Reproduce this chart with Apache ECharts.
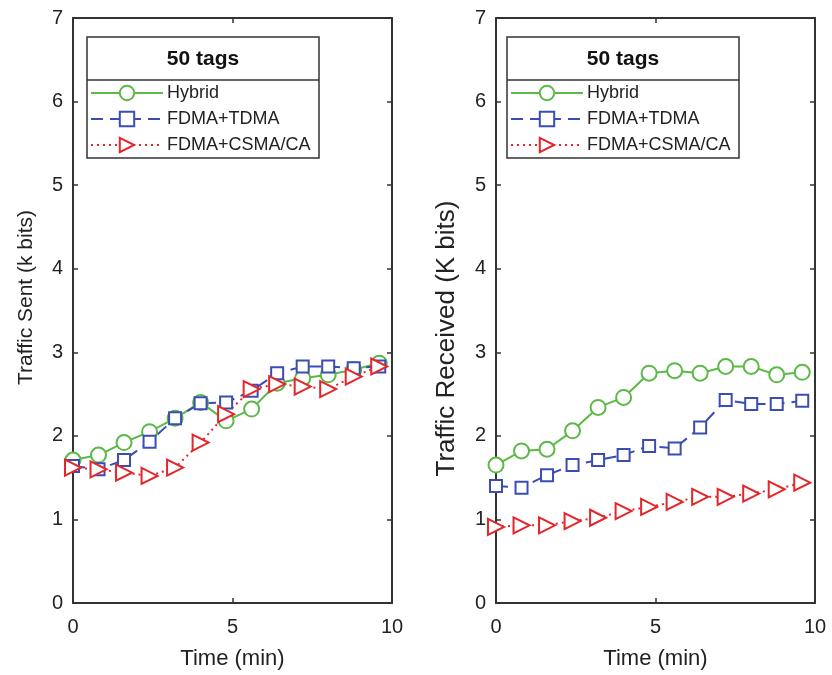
<!DOCTYPE html>
<html>
<head>
<meta charset="utf-8">
<script src="https://cdn.jsdelivr.net/npm/echarts@6/dist/echarts.min.js"></script>
<style>
html,body{margin:0;padding:0;background:#fff;}
#chart{width:832px;height:675px;}
</style>
</head>
<body>
<div id="chart"></div>
<script>
// ---- data ----
var time = [0, 0.8, 1.6, 2.4, 3.2, 4.0, 4.8, 5.6, 6.4, 7.2, 8.0, 8.8, 9.6];
var seriesNames = ['Hybrid', 'FDMA+TDMA', 'FDMA+CSMA/CA'];
var sentHybrid = [1.71, 1.77, 1.92, 2.05, 2.21, 2.40, 2.18, 2.32, 2.63, 2.69, 2.73, 2.79, 2.87];
var sentTdma   = [1.64, 1.60, 1.71, 1.93, 2.21, 2.39, 2.40, 2.54, 2.75, 2.83, 2.83, 2.81, 2.83];
var sentCsma   = [1.62, 1.60, 1.56, 1.52, 1.62, 1.92, 2.26, 2.56, 2.62, 2.59, 2.56, 2.71, 2.83];
var recvHybrid = [1.65, 1.82, 1.84, 2.06, 2.34, 2.46, 2.75, 2.78, 2.75, 2.83, 2.83, 2.73, 2.76];
var recvTdma   = [1.40, 1.38, 1.53, 1.65, 1.71, 1.77, 1.88, 1.85, 2.10, 2.43, 2.38, 2.38, 2.42];
var recvCsma   = [0.91, 0.93, 0.93, 0.98, 1.02, 1.10, 1.15, 1.21, 1.27, 1.27, 1.31, 1.36, 1.44];
var xTicks = [0, 5, 10];
var yTicks = [0, 1, 2, 3, 4, 5, 6, 7];
var legendTitle = '50 tags';
var xName = 'Time (min)';
var yNameLeft = 'Traffic Sent (k bits)';
var yNameRight = 'Traffic Received (K bits)';

// ---- styling ----
var FONT = 'Liberation Sans, Arial, Helvetica, sans-serif';
var AX = '#333';
var GREEN = '#5cb947', BLUE = '#3b4db3', RED = '#e4262b';
var TRI = 'path://M0,0 L10,5 L0,10 Z';

function pairs(xs, ys){ return xs.map(function(x,i){ return [x, ys[i]]; }); }

function xAxes(gi){
  var base = {
    gridIndex: gi, type: 'value', min: xTicks[0], max: xTicks[xTicks.length-1], interval: 5,
    axisLine: {show: true, onZero: false, lineStyle: {color: AX, width: 2}},
    axisTick: {show: true, inside: true, length: 5, lineStyle: {color: AX, width: 1.5}},
    splitLine: {show: false}
  };
  var bottom = Object.assign({}, base, {
    position: 'bottom',
    axisLabel: {show: true, color: '#222', fontSize: 20, fontFamily: FONT, margin: 14},
    name: xName, nameLocation: 'middle', nameGap: 45,
    nameTextStyle: {color: '#222', fontSize: 22, fontFamily: FONT}
  });
  var top = Object.assign({}, base, {position: 'top', axisLabel: {show: false}});
  return [bottom, top];
}
function yAxes(gi, name, pad){
  var base = {
    gridIndex: gi, type: 'value', min: yTicks[0], max: yTicks[yTicks.length-1], interval: 1,
    axisLine: {show: true, onZero: false, lineStyle: {color: AX, width: 2}},
    axisTick: {show: true, inside: true, length: 5, lineStyle: {color: AX, width: 1.5}},
    splitLine: {show: false}
  };
  var left = Object.assign({}, base, {
    position: 'left',
    axisLabel: {show: true, color: '#222', fontSize: 20, fontFamily: FONT, margin: 10},
    name: name, nameLocation: 'middle', nameGap: pad.gap,
    nameTextStyle: {color: '#222', fontSize: pad.size, fontFamily: FONT, padding: pad.padding}
  });
  var right = Object.assign({}, base, {position: 'right', axisLabel: {show: false}});
  return [left, right];
}

function lineSeries(name, xi, yi, data, color, symbol, size, dash){
  return {
    name: name, type: 'line', xAxisIndex: xi, yAxisIndex: yi,
    data: pairs(time, data),
    symbol: symbol, symbolSize: size,
    lineStyle: {color: color, width: 2, type: dash},
    itemStyle: {color: '#fff', borderColor: color, borderWidth: 2},
    emphasis: {disabled: true},
    animation: false
  };
}

var xa = xAxes(0).concat(xAxes(1));
var ya = yAxes(0, yNameLeft, {gap: 36, size: 21, padding: [0, 0, 0, 26]})
  .concat(yAxes(1, yNameRight, {gap: 36, size: 26, padding: [0, 56, 0, 0]}));

var series = [
  lineSeries(seriesNames[0], 0, 0, sentHybrid, GREEN, 'circle', 15, 'solid'),
  lineSeries(seriesNames[1], 0, 0, sentTdma, BLUE, 'rect', 12, [12, 7]),
  lineSeries(seriesNames[2], 0, 0, sentCsma, RED, TRI, 16, [2, 4]),
  lineSeries(seriesNames[0], 2, 2, recvHybrid, GREEN, 'circle', 15, 'solid'),
  lineSeries(seriesNames[1], 2, 2, recvTdma, BLUE, 'rect', 12, [12, 7]),
  lineSeries(seriesNames[2], 2, 2, recvCsma, RED, TRI, 16, [2, 4])
];

function legendFor(left){
  return {
    orient: 'vertical', left: left, top: 84, padding: 0,
    itemWidth: 72, itemHeight: 18, itemGap: 8,
    data: seriesNames, selectedMode: false,
    textStyle: {color: '#222', fontSize: 18, fontFamily: FONT, padding: [0, 0, 0, -1]},
    z: 6
  };
}
function legendBox(x){
  return [
    {type: 'rect', z: 5, shape: {x: x, y: 37, width: 232, height: 121},
     style: {fill: '#fff', stroke: AX, lineWidth: 1.5}},
    {type: 'line', z: 5, shape: {x1: x, y1: 80, x2: x + 232, y2: 80},
     style: {stroke: AX, lineWidth: 1.5}},
    {type: 'text', z: 6, x: x + 116, y: 59,
     style: {text: legendTitle, fill: '#111', font: 'bold 21px ' + FONT, align: 'center', verticalAlign: 'middle'}}
  ];
}

var chart = echarts.init(document.getElementById('chart'), null, {renderer: 'canvas'});
chart.setOption({
  backgroundColor: '#fff',
  animation: false,
  grid: [
    {left: 73, top: 18, width: 319, height: 585},
    {left: 496, top: 18, width: 319, height: 585}
  ],
  xAxis: xa,
  yAxis: ya,
  legend: [legendFor(90), legendFor(510)],
  graphic: legendBox(87).concat(legendBox(507)),
  series: series
});
</script>
</body>
</html>
